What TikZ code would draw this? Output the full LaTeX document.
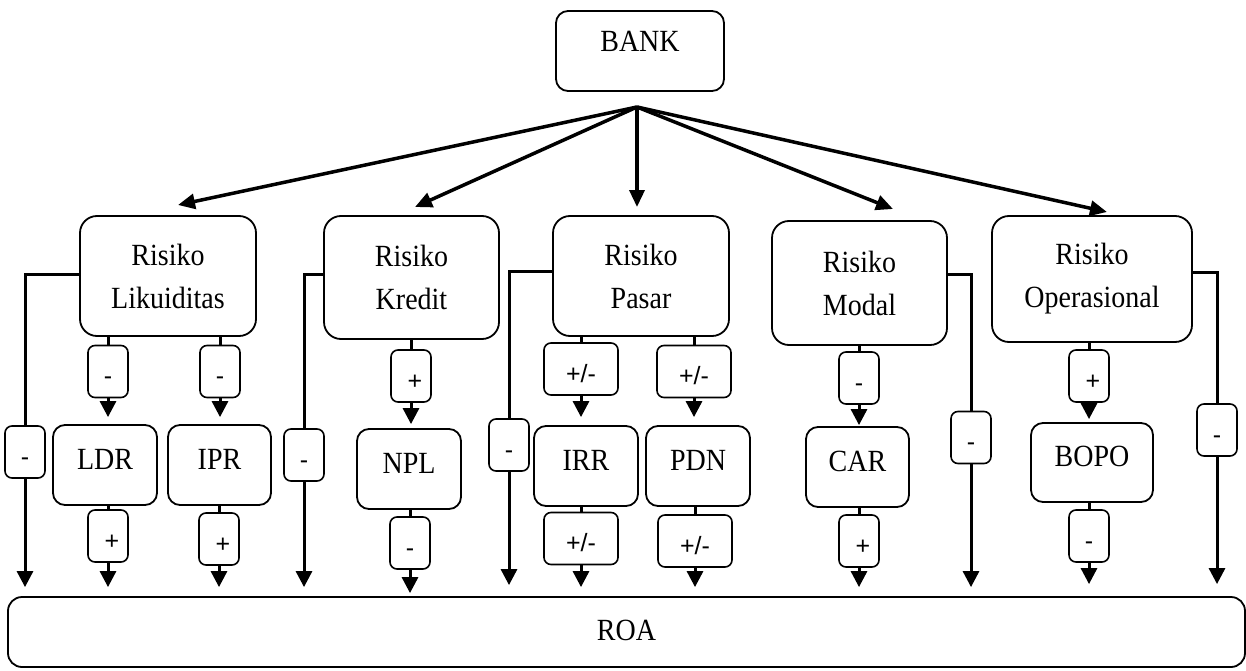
\documentclass[tikz,border=0pt]{standalone}
\usepackage{fontspec}
\usepackage{graphicx}
\setmainfont{Liberation Serif}
\newfontfamily\signfamily{Liberation Sans}
\usetikzlibrary{arrows.meta}
% slightly tall lettering
\newcommand\tl[1]{\scalebox{1}[1.1]{#1}}
\begin{document}
\begin{tikzpicture}[x=1pt,y=-1pt,
  box/.style={draw, line width=1.8pt, rounded corners=#1, inner sep=0pt,
    align=center, font=\fontsize{28}{43}\selectfont},
  box/.default=12pt,
  risk/.style={box=17pt, minimum width=176pt, minimum height=120pt},
  ratio/.style={box=12pt, minimum width=104pt, minimum height=80pt,
    text height=21pt, text depth=13pt},
  sign/.style={draw, line width=1.6pt, rounded corners=7pt, inner sep=0pt,
    minimum width=40pt, minimum height=52pt, font=\signfamily\fontsize{25}{28}\selectfont,
    text height=28pt, text depth=2pt},
  wsign/.style={sign, minimum width=74pt},
  link/.style={line width=3pt},
  arr/.style={line width=3pt, -{Triangle[length=16pt,width=16pt]}},
  hubarr/.style={line width=3.5pt, -{Triangle[length=17pt,width=15pt]}},
]
\useasboundingbox (0,0) rectangle (1246,671);

% top level
\node[box=12pt, minimum width=168pt, minimum height=80pt, text height=20pt, text depth=18pt]
  (bank) at (640,51) {\tl{BANK}};
\coordinate (hub) at (637,107);

% risk categories
\node[risk] (rl) at (168,276) {\tl{Risiko}\\\tl{Likuiditas}};
\node[risk, minimum width=175pt, minimum height=123pt] (rk) at (411.5,277.5) {\tl{Risiko}\\\tl{Kredit}};
\node[risk] (rp) at (641,276) {\tl{Risiko}\\\tl{Pasar}};
\node[risk, minimum width=175pt, minimum height=124pt] (rm) at (859.5,283) {\tl{Risiko}\\\tl{Modal}};
\node[risk, minimum width=200pt, minimum height=126pt] (ro) at (1092,279) {\tl{Risiko}\\\tl{Operasional}};

% arrow ends above the risk boxes
\coordinate (t1) at (178,205);
\coordinate (t2) at (415,207);
\coordinate (t3) at (637,207);
\coordinate (t4) at (893,209);
\coordinate (t5) at (1107,212);
\foreach \t in {t1,t2,t3,t4,t5} \draw[hubarr] (hub) -- (\t);

% ratios
\node[ratio] (ldr) at (105,465) {\tl{LDR}};
\node[ratio, minimum width=103pt] (ipr) at (219.5,465) {\tl{IPR}};
\node[ratio] (npl) at (409,469) {\tl{NPL}};
\node[ratio] (irr) at (586,466) {\tl{IRR}};
\node[ratio] (pdn) at (698,466) {\tl{PDN}};
\node[ratio, minimum width=103pt] (car) at (857.5,467) {\tl{CAR}};
\node[ratio, minimum width=122pt, minimum height=79pt] (bopo) at (1092,462.5) {\tl{BOPO}};

% result
\node[box=14pt, minimum width=1237pt, minimum height=70pt, text height=24pt, text depth=8pt]
  (roa) at (626.5,632) {\tl{ROA}};

% direct effects of each risk on ROA
\node[sign] (m1) at (25,452) {-};
\node[sign] (m2) at (304,455) {-};
\node[sign] (m3) at (509,445) {-};
\node[sign] (m4) at (971,437.5) {-};
\node[sign] (m5) at (1217,430) {-};
\draw[link] ([yshift=2pt]rl.west) -| (m1.north);
\draw[link] ([yshift=3pt]rk.west) -| (m2.north);
\draw[link] ([yshift=5pt]rp.west) -| (m3.north);
\draw[link] ([yshift=9pt]rm.east) -| (m4.north);
\draw[link] ([yshift=7pt]ro.east) -| (m5.north);
\foreach \m/\s in {m1/9,m2/9,m3/11,m4/9,m5/12}
  \draw[arr, shorten >=\s pt] (\m) -- (\m |- roa.north);

% signs between risks and ratios
\node[sign] (s1a) at (108,371.5) {-};
\node[sign] (s2a) at (220,371.5) {-};
\node[sign] (s3a) at (411,376) {\hspace{8pt}+};
\node[wsign] (s4a) at (581,369) {+/-};
\node[wsign] (s5a) at (694,371.5) {+/-};
\node[sign] (s6a) at (859,378) {-};
\node[sign] (s7a) at (1089,376) {\hspace{8pt}+};
\foreach \s/\r/\b/\g in {s1a/ldr/rl/7, s2a/ipr/rl/7, s3a/npl/rk/4, s4a/irr/rp/8,
    s5a/pdn/rp/8, s6a/car/rm/1, s7a/bopo/ro/3} {
  \draw[link] (\s.north |- \b.south) -- (\s.north);
  \draw[arr, shorten >=\g pt] (\s) -- (\s |- \r.north);
}

% signs between ratios and ROA
\node[sign] (s1b) at (108,536) {\hspace{8pt}+};
\node[sign] (s2b) at (219,539) {\hspace{8pt}+};
\node[sign] (s3b) at (410,543) {-};
\node[wsign] (s4b) at (581,538.5) {+/-};
\node[wsign] (s5b) at (695,541) {+/-};
\node[sign] (s6b) at (859,541) {\hspace{8pt}+};
\node[sign] (s7b) at (1089,536) {-};
\foreach \s/\r/\g in {s1b/ldr/9, s2b/ipr/9, s3b/npl/3, s4b/irr/9, s5b/pdn/9,
    s6b/car/9, s7b/bopo/12} {
  \draw[link] (\s.north |- \r.south) -- (\s.north);
  \draw[arr, shorten >=\g pt] (\s) -- (\s |- roa.north);
}
\end{tikzpicture}
\end{document}
